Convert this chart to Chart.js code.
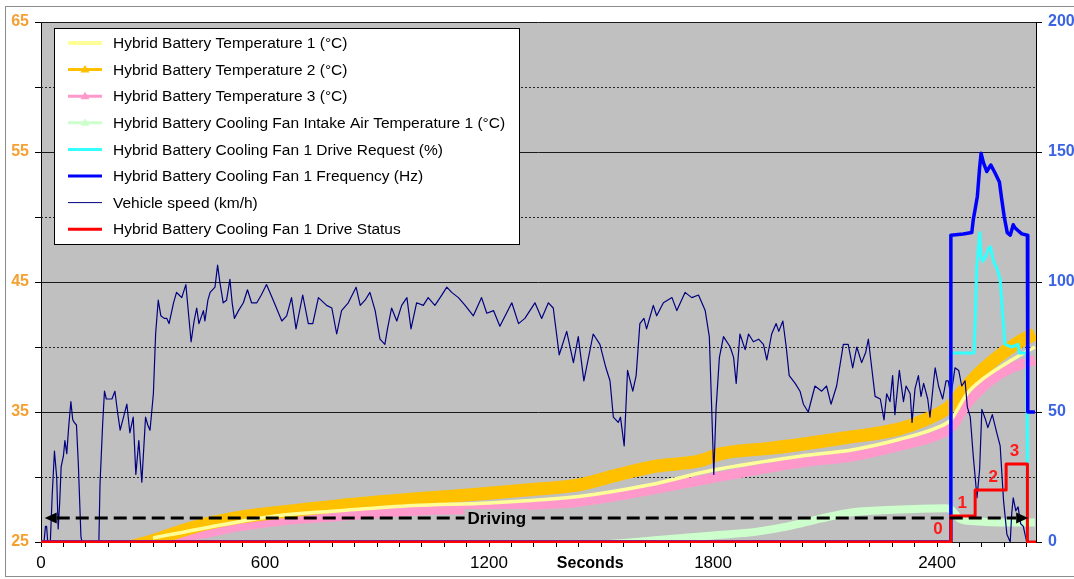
<!DOCTYPE html>
<html>
<head>
<meta charset="utf-8">
<script src="https://cdn.jsdelivr.net/npm/chart.js@4.4.1/dist/chart.umd.min.js"></script>
<style>
  html, body { margin: 0; padding: 0; background: #ffffff; }
  canvas { display: block; }
</style>
</head>
<body>
<canvas id="chart" width="1074" height="579"></canvas>
<script>
// ---- Series names ----
const seriesLabels = [
  'Hybrid Battery Temperature 1 (°C)',
  'Hybrid Battery Temperature 2 (°C)',
  'Hybrid Battery Temperature 3 (°C)',
  'Hybrid Battery Cooling Fan Intake Air Temperature 1 (°C)',
  'Hybrid Battery Cooling Fan 1 Drive Request (%)',
  'Hybrid Battery Cooling Fan 1 Frequency (Hz)',
  'Vehicle speed (km/h)',
  'Hybrid Battery Cooling Fan 1 Drive Status'
];

// ---- Axis labels ----
const xTickLabels = [0, 600, 1200, 1800, 2400];
const leftTickLabels = [25, 35, 45, 55, 65];
const rightTickLabels = [0, 50, 100, 150, 200];
const xAxisTitle = 'Seconds';
const phaseLabel = 'Driving';

// ---- Temperatures, [seconds, °C] ----
const battTemp1 = [
  [300,25.3],[443,26.1],[627,27.0],[800,27.4],[997,27.8],[1200,28.0],[1440,28.5],
  [1631,29.4],[1795,30.5],[2033,31.6],[2175,32.1],[2300,32.9],[2400,33.8],
  [2437,34.4],[2480,36.4],[2530,37.7],[2600,39.0],[2662,40.0]
];
const battTemp2 = [
  [195,24.3],[250,24.7],[305,25.15],[360,25.7],[443,26.4],[530,26.9],[627,27.25],
  [800,27.8],[997,28.3],[1200,28.75],[1300,29.0],[1440,29.4],[1550,30.2],
  [1640,30.8],[1765,31.25],[1822,31.8],[1950,32.2],[2033,32.5],[2150,33.0],
  [2300,33.7],[2360,34.3],[2424,35.2],[2437,35.5],[2480,37.0],[2520,38.2],
  [2570,39.4],[2620,40.4],[2662,41.0]
];
const battTemp3 = [
  [250,24.4],[300,24.9],[360,25.3],[443,25.7],[530,26.2],[627,26.6],[800,27.0],
  [997,27.4],[1200,27.6],[1340,27.9],[1440,28.1],[1631,29.0],[1795,29.9],
  [2033,31.1],[2175,31.6],[2300,32.4],[2400,33.2],[2437,33.8],[2480,35.6],
  [2530,37.1],[2600,38.4],[2662,39.0]
];
const intakeAirTemp = [
  [1100,24.3],[1300,24.6],[1500,24.8],[1631,25.1],[1800,25.5],[1918,25.8],
  [2000,26.2],[2088,26.8],[2175,27.3],[2300,27.5],[2424,27.6],[2437,27.5],
  [2460,26.8],[2500,26.6],[2600,26.5],[2662,26.5]
];

// ---- Fan and vehicle signals (right axis), [seconds, value] ----
const fanDriveRequest = [
  [0,0],[2436,0],[2437,72.7],[2499,72.7],[2502,84],[2506,105],[2510,112],[2514,119],
  [2518,110],[2523,108],[2531,110],[2538,113],[2543,113.5],[2551,108],[2561,105],
  [2569,101],[2576,87],[2582,76],[2600,75],[2617,76],[2620,72.7],[2641,72.7],
  [2642,0],[2662,0]
];
const fanFrequency = [
  [0,0],[2436,0],[2437,118],[2470,118.5],[2493,119],[2497,124],[2502,128],[2508,133],
  [2514,144],[2518,149.5],[2524,146],[2533,142.5],[2544,145],[2555,142],[2567,138.5],
  [2573,132],[2580,125],[2588,119],[2596,118],[2604,122],[2608,121],[2615,120],
  [2627,118.5],[2642,118],[2643,50],[2662,50]
];
const vehicleSpeed = [
  [0,0],[8,0],[12,6],[15,6],[18,0],[25,0],[30,18],[36,35],[42,25],[46,5],[50,15],
  [54,29],[60,33],[64,39],[69,34],[74,44],[80,54],[85,47],[89,46],[95,45],[100,30],
  [107,2],[110,0],[155,0],[158,22],[165,45],[170,58],[175,55],[180,55],[190,55],
  [198,58],[205,50],[212,43],[221,48],[230,53],[238,42],[247,48],[254,26],[262,39],
  [270,23],[280,48],[286,45],[292,43],[301,57],[307,80],[314,93],[321,87],[330,86],
  [337,86],[343,84],[355,92],[363,96],[370,95],[377,94],[388,99],[395,88],[402,77],
  [410,85],[417,90],[423,84],[435,89],[439,85],[447,93],[453,96],[466,98],[473,106.5],
  [479,100],[488,92],[497,93],[506,101],[512,92],[518,86],[529,89],[542,92],[553,97],
  [564,92],[578,92],[590,95],[604,99],[622,93],[645,85],[658,87],[671,94],[683,82],
  [701,95],[716,84],[728,84],[743,94],[765,91],[779,90],[792,80],[805,89],[823,92],
  [844,98],[855,91],[868,93],[881,96],[895,89],[908,78],[921,76],[928,82],[939,90],
  [953,85],[966,91],[980,94],[991,82],[1006,92],[1024,91],[1037,94],[1055,91],
  [1069,94],[1087,98],[1100,96],[1118,94],[1136,91],[1158,87],[1180,94],[1194,88],
  [1212,89],[1229,83],[1261,92],[1279,84],[1296,86],[1323,92],[1341,86],[1359,92],
  [1372,90],[1388,72],[1408,81],[1426,69],[1439,79],[1454,62],[1479,80],[1497,76],
  [1513,67],[1524,62],[1533,48],[1546,46],[1552,48],[1562,37],[1571,66],[1585,58],
  [1594,64],[1604,84],[1615,86],[1622,82],[1640,91],[1649,87],[1667,92],[1690,94],
  [1703,89],[1725,96],[1743,94],[1761,95],[1779,89],[1790,79],[1796,53],[1802,26],
  [1808,51],[1817,71],[1828,79],[1846,75],[1855,71],[1862,61],[1872,80],[1886,74],
  [1895,80],[1908,77],[1922,78],[1935,76],[1944,70],[1957,80],[1969,84],[1976,81],
  [1987,85],[1996,75],[2004,64],[2020,61],[2033,58],[2042,53],[2055,50],[2073,60],
  [2091,58],[2104,60],[2116,53],[2131,60],[2149,76],[2162,76],[2174,67],[2185,75],
  [2198,69],[2209,73],[2216,78],[2225,67],[2234,56],[2248,55],[2258,47],[2265,57],
  [2274,54],[2281,64],[2287,49],[2299,66],[2310,54],[2317,60],[2328,57],[2333,46],
  [2341,59],[2350,64],[2357,56],[2364,61],[2375,55],[2381,48],[2391,62],[2395,67],
  [2404,60],[2415,55],[2424,62],[2430,62],[2437,56],[2448,67],[2458,66],[2466,60],
  [2475,62],[2481,52],[2489,48],[2497,33],[2507,17],[2514,28],[2520,51],[2530,47],
  [2536,44],[2548,49],[2560,42],[2569,37],[2578,16],[2587,3],[2596,0],[2600,11],
  [2604,17],[2611,12],[2617,13.5],[2624,7],[2631,6],[2640,0],[2662,0]
];
// Fan drive status level (0-3), each point starts a new level
const fanDriveStatus = [[0,0],[2437,1],[2502,2],[2585,3],[2642,0],[2665,0]];

// Driving phase: start / end seconds, drawn at this right-axis level
const drivingPhase = [10, 2644];
const drivingLevel = 9.2;
const drivingLabelAt = 1221;
const xAxisTitleAt = 1471;

// ---------------------------------------------------------------
const FONT = "'Liberation Sans', Arial, Helvetica, sans-serif";
Chart.defaults.font.family = FONT;
const toXY = arr => arr.map(([x, y]) => ({ x, y }));
const PLOT_BG = '#C0C0C0';

const lineBase = { pointRadius: 0, pointHoverRadius: 0, fill: false, borderCapStyle: 'butt', borderJoinStyle: 'round' };

const datasets = [
  { ...lineBase, label: seriesLabels[0], data: toXY(battTemp1), borderColor: '#FFFF99', borderWidth: 3.5,
    yAxisID: 'yTemp', order: 4, cubicInterpolationMode: 'monotone', legendWidth: 4 },
  { ...lineBase, label: seriesLabels[1], data: toXY(battTemp2), borderColor: '#FFC000', borderWidth: 13,
    yAxisID: 'yTemp', order: 5, cubicInterpolationMode: 'monotone', legendWidth: 3, legendMarker: '#FFC000' },
  { ...lineBase, label: seriesLabels[2], data: toXY(battTemp3), borderColor: '#FF99CC', borderWidth: 10,
    yAxisID: 'yTemp', order: 6, cubicInterpolationMode: 'monotone', legendWidth: 3, legendMarker: '#FF99CC' },
  { ...lineBase, label: seriesLabels[3], data: toXY(intakeAirTemp), borderColor: '#CCFFCC', borderWidth: 8,
    yAxisID: 'yTemp', order: 7, cubicInterpolationMode: 'monotone', legendWidth: 3, legendMarker: '#CCFFCC' },
  { ...lineBase, label: seriesLabels[4], data: toXY(fanDriveRequest), borderColor: '#33FFFF', borderWidth: 3,
    yAxisID: 'yRight', order: 2, legendWidth: 3 },
  { ...lineBase, label: seriesLabels[5], data: toXY(fanFrequency), borderColor: '#0000FF', borderWidth: 3.5,
    yAxisID: 'yRight', order: 1, legendWidth: 3 },
  { ...lineBase, label: seriesLabels[6], data: toXY(vehicleSpeed), borderColor: '#000080', borderWidth: 1.2,
    yAxisID: 'yRight', order: 3, legendWidth: 1 },
  { ...lineBase, label: seriesLabels[7], data: toXY(fanDriveStatus), borderColor: '#FF0000', borderWidth: 3,
    yAxisID: 'yStatus', order: 0, stepped: true, legendWidth: 3,
    clip: { left: 0, right: 0, top: 0, bottom: 1 } }
];

// Plot background and horizontal grid (solid every 10 °C, dotted in between)
const plotBackground = {
  id: 'plotBackground',
  beforeDraw(chart) {
    const { ctx, chartArea: a } = chart;
    ctx.save();
    ctx.fillStyle = '#ffffff';
    ctx.fillRect(0, 0, chart.width, chart.height);
    ctx.strokeStyle = '#8c8c8c';
    ctx.lineWidth = 1;
    ctx.strokeRect(5.5, 6.5, chart.width + 10, chart.height - 9);
    ctx.fillStyle = PLOT_BG;
    ctx.fillRect(a.left, a.top, a.right - a.left, a.bottom - a.top);
    ctx.restore();
  },
  beforeDatasetsDraw(chart) {
    const { ctx, chartArea: a } = chart;
    const ys = chart.scales.yTemp;
    ctx.save();
    ys.ticks.forEach(t => {
      const y = Math.round(ys.getPixelForValue(t.value)) + 0.5;
      const major = leftTickLabels.includes(t.value);
      ctx.strokeStyle = major ? '#1a1a1a' : '#262626';
      ctx.lineWidth = 1;
      ctx.setLineDash(major ? [] : [2, 2]);
      ctx.beginPath();
      ctx.moveTo(a.left, y);
      ctx.lineTo(a.right, y);
      ctx.stroke();
    });
    ctx.restore();
  }
};

// Driving arrow, fan status numbers, axis title and the legend box
const overlays = {
  id: 'overlays',
  afterDatasetsDraw(chart) {
    const { ctx } = chart;
    const xs = chart.scales.x, yr = chart.scales.yRight, yst = chart.scales.yStatus;

    // Driving double arrow
    const y = yr.getPixelForValue(drivingLevel);
    const x0 = xs.getPixelForValue(drivingPhase[0]);
    const x1 = xs.getPixelForValue(drivingPhase[1]);
    const head = 12, half = 5.5;
    ctx.save();
    ctx.strokeStyle = '#000';
    ctx.lineWidth = 3;
    ctx.setLineDash([13, 6]);
    ctx.beginPath();
    ctx.moveTo(x0 + head, y);
    ctx.lineTo(x1 - head, y);
    ctx.stroke();
    ctx.setLineDash([]);
    ctx.fillStyle = '#000';
    ctx.beginPath();
    ctx.moveTo(x0, y); ctx.lineTo(x0 + head, y - half); ctx.lineTo(x0 + head, y + half); ctx.closePath();
    ctx.fill();
    ctx.beginPath();
    ctx.moveTo(x1, y); ctx.lineTo(x1 - head, y - half); ctx.lineTo(x1 - head, y + half); ctx.closePath();
    ctx.fill();

    ctx.font = 'bold 17px ' + FONT;
    ctx.textAlign = 'center';
    ctx.textBaseline = 'middle';
    const lx = xs.getPixelForValue(drivingLabelAt);
    const tw = ctx.measureText(phaseLabel).width;
    ctx.fillStyle = PLOT_BG;
    ctx.fillRect(lx - tw / 2 - 3, y - 9, tw + 6, 18);
    ctx.fillStyle = '#000';
    ctx.fillText(phaseLabel, lx, y + 1);

    // Fan drive status numbers, one per level
    ctx.font = 'bold 17px ' + FONT;
    ctx.fillStyle = '#FF1A1A';
    const seen = new Set();
    for (let i = 0; i < fanDriveStatus.length - 1; i++) {
      const level = fanDriveStatus[i][1];
      if (seen.has(level)) continue;
      seen.add(level);
      const px = xs.getPixelForValue(fanDriveStatus[i + 1][0]) - 13;
      const py = yst.getPixelForValue(level) - 13;
      ctx.fillText(String(level), px, py);
    }
    ctx.restore();
  },
  afterDraw(chart) {
    const { ctx } = chart;
    const xs = chart.scales.x;
    ctx.save();
    // Axis title
    ctx.font = 'bold 16px ' + FONT;
    ctx.fillStyle = '#000';
    ctx.textAlign = 'center';
    ctx.textBaseline = 'middle';
    ctx.fillText(xAxisTitle, xs.getPixelForValue(xAxisTitleAt), 564);

    // Legend box
    const bx = 54.5, by = 28.5, bw = 465, bh = 216;
    ctx.fillStyle = '#fff';
    ctx.fillRect(bx, by, bw, bh);
    ctx.strokeStyle = '#000';
    ctx.lineWidth = 1;
    ctx.strokeRect(bx, by, bw, bh);
    ctx.font = '15.5px ' + FONT;
    ctx.textAlign = 'left';
    chart.data.datasets.forEach((ds, i) => {
      const ry = 43 + i * 26.6;
      ctx.strokeStyle = ds.borderColor;
      ctx.lineWidth = ds.legendWidth;
      ctx.beginPath();
      ctx.moveTo(68, ry);
      ctx.lineTo(102, ry);
      ctx.stroke();
      if (ds.legendMarker) {
        ctx.fillStyle = ds.legendMarker;
        ctx.beginPath();
        ctx.moveTo(85, ry - 4.5); ctx.lineTo(89.5, ry + 3); ctx.lineTo(80.5, ry + 3); ctx.closePath();
        ctx.fill();
      }
      ctx.fillStyle = '#000';
      ctx.fillText(ds.label, 113, ry + 1);
    });
    ctx.restore();
  }
};

new Chart(document.getElementById('chart'), {
  type: 'line',
  data: { datasets },
  options: {
    responsive: false,
    devicePixelRatio: 1,
    animation: false,
    events: [],
    layout: { padding: { top: 22, left: 0, right: 0, bottom: 0 } },
    plugins: { legend: { display: false }, tooltip: { enabled: false } },
    scales: {
      x: {
        type: 'linear', min: 0, max: 2665,
        afterBuildTicks: axis => {
          const t = [];
          for (let v = 0; v <= axis.max; v += 60) t.push({ value: v });
          axis.ticks = t;
        },
        afterFit: axis => { axis.height = 37; },
        ticks: {
          autoSkip: false, maxRotation: 0, padding: 6, color: '#000',
          font: { size: 17 },
          callback: v => xTickLabels.includes(v) ? String(v) : ''
        },
        grid: { drawOnChartArea: false, drawTicks: true, tickLength: 5, color: '#000' },
        border: { display: true, color: '#000', width: 1 }
      },
      yTemp: {
        type: 'linear', position: 'left', min: 25, max: 65,
        afterBuildTicks: axis => {
          const t = [];
          for (let v = 25; v <= 65; v += 5) t.push({ value: v });
          axis.ticks = t;
        },
        afterFit: axis => { axis.width = 41; },
        ticks: {
          autoSkip: false, padding: 6, color: '#F5A031',
          font: { size: 16, weight: 'bold' },
          callback: v => leftTickLabels.includes(v) ? String(v) : ''
        },
        grid: { drawOnChartArea: false, drawTicks: true, tickLength: 6, color: '#000' },
        border: { display: true, color: '#000', width: 1 }
      },
      yRight: {
        type: 'linear', position: 'right', min: 0, max: 200,
        afterBuildTicks: axis => { axis.ticks = rightTickLabels.map(v => ({ value: v })); },
        afterFit: axis => { axis.width = 38; },
        ticks: {
          autoSkip: false, padding: 6, color: '#3B63E2',
          font: { size: 16, weight: 'bold' },
          callback: v => String(v)
        },
        grid: { drawOnChartArea: false, drawTicks: true, tickLength: 6, color: '#000' },
        border: { display: true, color: '#000', width: 1 }
      },
      yStatus: { type: 'linear', display: false, min: 0, max: 20 }
    }
  },
  plugins: [plotBackground, overlays]
});
</script>
</body>
</html>
